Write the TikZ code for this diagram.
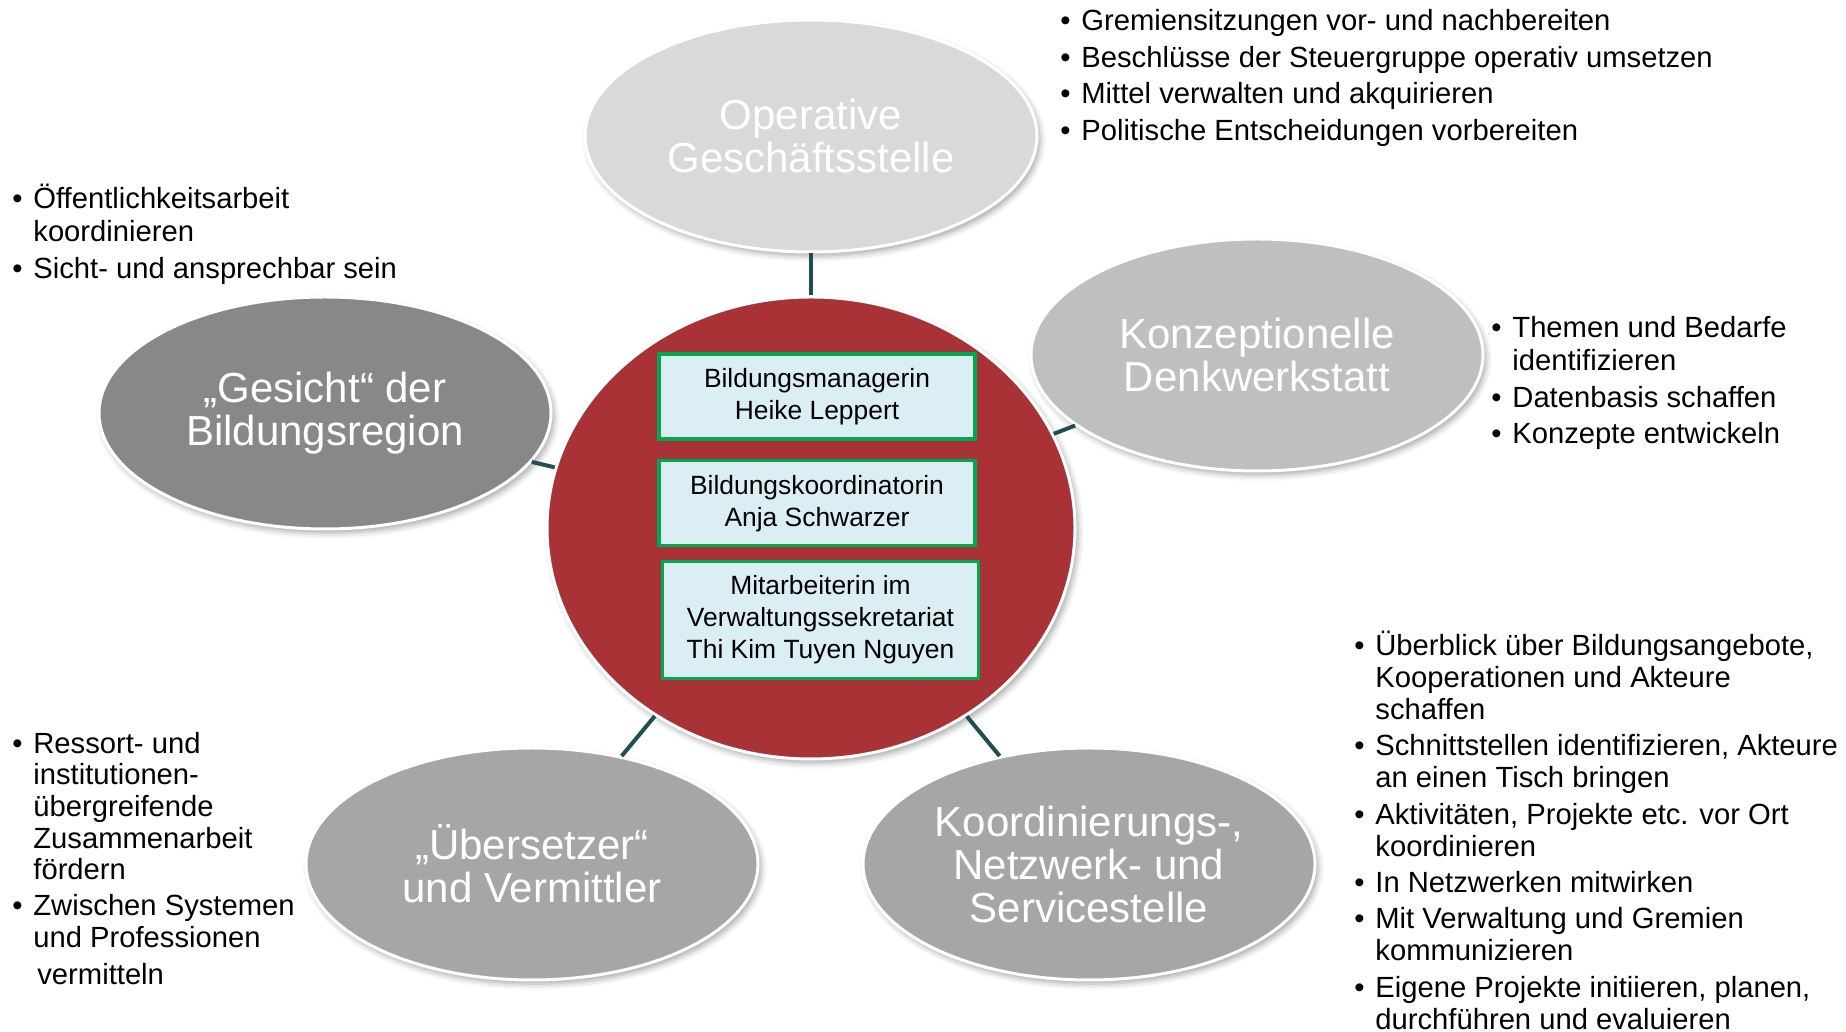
\documentclass[tikz,border=0pt]{standalone}
\usepackage{fontspec}
\setmainfont{Liberation Sans}
\usepackage{tikz}
\usetikzlibrary{positioning, shapes.geometric, shadows.blur}
\definecolor{HubRed}{HTML}{A83236}
\definecolor{LinkTeal}{HTML}{1F4F52}
\definecolor{BoxGreen}{HTML}{00A84F}
\definecolor{BoxCyan}{HTML}{DAEEF3}
\definecolor{GreyLite}{HTML}{D9D9D9}
\definecolor{GreyMid}{HTML}{BFBFBF}
\definecolor{GreyDeep}{HTML}{A6A6A6}
\definecolor{GreyDark}{HTML}{888888}
\newcommand{\listbullet}{\makebox[10.5pt][l]{\textbullet}}
\newcommand{\listindent}{\hspace*{10.5pt}}
\newcommand{\liststrut}{\rule{0pt}{14pt}}
\tikzset{%
  role/.style={%
    ellipse,%
    draw=white,%
    line width=1.5pt,%
    minimum width=226pt,%
    minimum height=116pt,%
    inner sep=0pt,%
    text=white,%
    font={\fontsize{21}{21.5}\selectfont},%
    align=center,%
    blur shadow={shadow xshift=1.5pt, shadow yshift=-2pt,
      shadow blur radius=3pt, shadow opacity=35},%
  },
  hub/.style={%
    ellipse,%
    draw=white,%
    line width=1.5pt,%
    fill=HubRed,%
    minimum width=264pt,%
    minimum height=231pt,%
    blur shadow={shadow xshift=1.5pt, shadow yshift=-2pt,
      shadow blur radius=3pt, shadow opacity=35},%
  },
  person/.style={%
    rectangle,%
    draw=BoxGreen,%
    line width=1.6pt,%
    fill=BoxCyan,%
    minimum width=158pt,%
    minimum height=42.5pt,%
    inner sep=0pt,%
    font={\fontsize{13.2}{16}\selectfont},%
    align=center,%
  },
  duties/.style={%
    anchor=north west,%
    inner sep=0pt,%
    align=left,%
    font={\fontsize{14.6}{16.2}\selectfont},%
  },
  link/.style={%
    draw=LinkTeal,%
    line width=2pt,%
  },
}

\begin{document}
\begin{tikzpicture}[x=0.5pt, y=0.5pt]
    \useasboundingbox (0, 0) rectangle (1846, 1032);

    \node [hub] (Hub) at (811, 504) {};
    \node [person] (Manager) at (817, 635.5)
      {Bildungsmanagerin\\Heike Leppert};
    \node [person, below=9.3pt of Manager] (Coordinator)
      {Bildungskoordinatorin\\Anja Schwarzer};
    \node [person, minimum height=58.5pt, below=6.2pt of Coordinator,
      xshift=1.75pt] (Secretary)
      {Mitarbeiterin im\\Verwaltungssekretariat\\Thi Kim Tuyen Nguyen};

    \node [role, fill=GreyLite] (Office) at (811, 896)
      {Operative\\Geschäftsstelle};
    \node [role, fill=GreyMid] (Workshop) at (1257, 677)
      {Konzeptionelle\\Denkwerkstatt};
    \node [role, fill=GreyDark] (Face) at (325, 619)
      {„Gesicht“ der\\Bildungsregion};
    \node [role, fill=GreyDeep] (Mediator) at (532, 168)
      {„Übersetzer“\\und Vermittler};
    \node [role, fill=GreyDeep] (Network) at (1089, 168)
      {Koordinierungs-,\\Netzwerk- und\\Servicestelle};

    \draw [link] (Hub) -- (Office);
    \draw [link] (Hub) -- (Workshop);
    \draw [link] (Hub) -- (Face);
    \draw [link] (Hub) -- (Mediator);
    \draw [link] (Hub) -- (Network);

    \node [duties] (OfficeTasks) at (1060, 1030)
      {\liststrut\listbullet Gremiensitzungen vor- und nachbereiten\\[2.2pt]
       \listbullet Beschlüsse der Steuergruppe operativ umsetzen\\[2.2pt]
       \listbullet Mittel verwalten und akquirieren\\[2.2pt]
       \listbullet Politische Entscheidungen vorbereiten};
    \node [duties] (WorkshopTasks) at (1491, 722.5)
      {\liststrut\listbullet Themen und Bedarfe\\
       \listindent identifizieren\\[2.2pt]
       \listbullet Datenbasis schaffen\\[2.2pt]
       \listbullet Konzepte entwickeln};
    \node [duties] (FaceTasks) at (12, 851.5)
      {\liststrut\listbullet Öffentlichkeitsarbeit\\
       \listindent koordinieren\\[2.2pt]
       \listbullet Sicht- und ansprechbar sein};
    \node [duties, font={\fontsize{14.6}{15.8}\selectfont}] (MediatorTasks)
      at (12, 307)
      {\liststrut\listbullet Ressort- und\\
       \listindent institutionen-\\
       \listindent übergreifende\\
       \listindent Zusammenarbeit\\
       \listindent fördern\\[2.2pt]
       \listbullet Zwischen Systemen\\
       \listindent und Professionen\\[2.7pt]
       \hspace*{12.5pt}vermitteln};
    \node [duties, font={\fontsize{14.6}{16}\selectfont}] (NetworkTasks)
      at (1354, 405)
      {\liststrut\listbullet Überblick über Bildungsangebote,\\
       \listindent Kooperationen und Akteure\\
       \listindent schaffen\\[2.2pt]
       \listbullet Schnittstellen identifizieren, Akteure\\
       \listindent an einen Tisch bringen\\[2.2pt]
       \listbullet Aktivitäten, Projekte etc. vor Ort\\
       \listindent koordinieren\\[2.2pt]
       \listbullet In Netzwerken mitwirken\\[2.2pt]
       \listbullet Mit Verwaltung und Gremien\\
       \listindent kommunizieren\\[2.2pt]
       \listbullet Eigene Projekte initiieren, planen,\\
       \listindent durchführen und evaluieren};
  \end{tikzpicture}
\end{document}
